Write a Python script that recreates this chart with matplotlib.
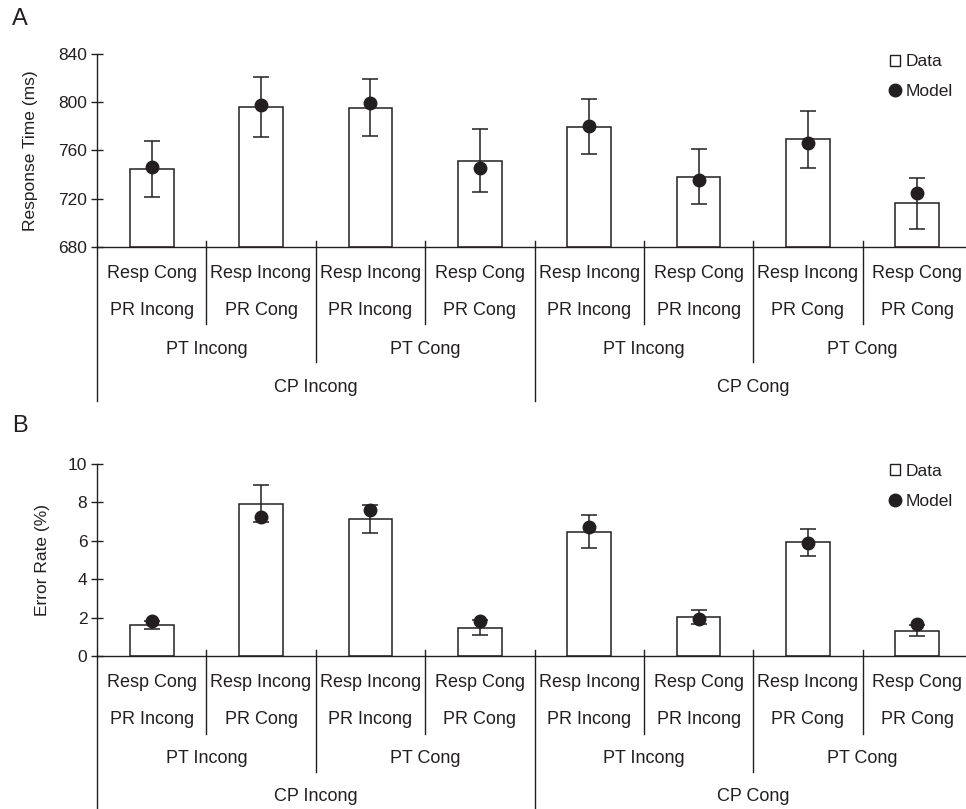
import matplotlib
matplotlib.use('Agg')
import matplotlib.pyplot as plt
from matplotlib.lines import Line2D
from matplotlib.patches import Patch
import numpy as np

plt.rcParams['font.family'] = ['Liberation Sans', 'DejaVu Sans']

# data
resp_labels = ['Resp Cong', 'Resp Incong', 'Resp Incong', 'Resp Cong',
               'Resp Incong', 'Resp Cong', 'Resp Incong', 'Resp Cong']
pr_labels = ['PR Incong', 'PR Cong', 'PR Incong', 'PR Cong',
             'PR Incong', 'PR Incong', 'PR Cong', 'PR Cong']
pt_labels = ['PT Incong', 'PT Cong', 'PT Incong', 'PT Cong']
cp_labels = ['CP Incong', 'CP Cong']

rt_data = [744.5, 796, 795.5, 751.5, 779.8, 738, 769.2, 716.2]
rt_err = [23, 24.6, 24, 26, 23, 22.8, 23.6, 21.2]
rt_model = [746, 798, 799, 745, 780, 735.5, 766.5, 725]

er_data = [1.61, 7.93, 7.12, 1.47, 6.47, 2.04, 5.92, 1.32]
er_err = [0.22, 0.95, 0.73, 0.38, 0.84, 0.37, 0.70, 0.30]
er_model = [1.80, 7.21, 7.59, 1.80, 6.71, 1.92, 5.89, 1.65]

ink = '#231f20'
W, H = 966, 809
fig = plt.figure(figsize=(W / 100, H / 100), dpi=100)


def make_panel(top_px, bot_px, data, err, model, ylo, yhi, yticks, ylabel, label_x, letter, letter_y):
    ax = fig.add_axes([97 / W, (H - bot_px) / H, (972 - 97) / W, (bot_px - top_px) / H])
    hpx = bot_px - top_px
    x = np.arange(len(data))
    data = np.array(data)
    ax.bar(x, data - ylo, bottom=ylo, width=0.4, facecolor='white', edgecolor=ink, linewidth=1.1, zorder=2)
    ax.errorbar(x, data, yerr=err, fmt='none', ecolor=ink, elinewidth=1.1, capsize=5.5, capthick=1.1, zorder=3)
    ax.plot(x, model, 'o', color=ink, markersize=9, zorder=4, linestyle='none')

    ax.set_xlim(-0.5, 7.5)
    ax.set_ylim(ylo, yhi)
    ax.set_yticks(yticks)
    ax.set_xticks([])
    ax.tick_params(axis='y', direction='inout', length=8, width=1, colors=ink, labelsize=12.5, pad=3)
    for s in ['top', 'right']:
        ax.spines[s].set_visible(False)
    for s in ['left', 'bottom']:
        ax.spines[s].set_color(ink)
        ax.spines[s].set_linewidth(1)
    ax.set_ylabel(ylabel, fontsize=12.5, color=ink)
    ax.yaxis.set_label_coords(label_x, 0.5)

    tr = ax.get_xaxis_transform()

    def fy(px):
        return -px / hpx

    # hierarchical category labels
    for i, t in enumerate(resp_labels):
        ax.text(i, fy(26.5), t, transform=tr, ha='center', va='center', fontsize=13, color=ink)
    for i, t in enumerate(pr_labels):
        ax.text(i, fy(64), t, transform=tr, ha='center', va='center', fontsize=13, color=ink)
    for i, t in enumerate(pt_labels):
        ax.text(2 * i + 0.5, fy(102.3), t, transform=tr, ha='center', va='center', fontsize=13, color=ink)
    for i, t in enumerate(cp_labels):
        ax.text(4 * i + 1.5, fy(140.5), t, transform=tr, ha='center', va='center', fontsize=13, color=ink)

    # separator lines
    for xb in [0.5, 2.5, 4.5, 6.5]:
        ax.plot([xb, xb], [fy(-6), fy(77.6)], transform=tr, color=ink, lw=1, clip_on=False)
    for xb in [1.5, 5.5]:
        ax.plot([xb, xb], [fy(-6), fy(115.6)], transform=tr, color=ink, lw=1, clip_on=False)
    ax.plot([3.5, 3.5], [fy(-6), fy(154)], transform=tr, color=ink, lw=1, clip_on=False)
    ax.plot([-0.5, -0.5], [0, fy(154)], transform=tr, color=ink, lw=1, clip_on=False)

    handles = [Patch(facecolor='white', edgecolor=ink, linewidth=1, label='Data'),
               Line2D([], [], marker='o', color=ink, linestyle='none', markersize=9, label='Model')]
    ax.legend(handles=handles, loc='upper right', bbox_to_anchor=(0.996, 1.08), frameon=False,
              fontsize=12.5, handlelength=0.6, handleheight=0.6, handletextpad=0.3,
              labelspacing=0.85, labelcolor=ink)

    fig.text(12 / W, 1 - letter_y / H, letter, fontsize=17, color=ink, ha='left', va='center')
    return ax


make_panel(54, 246.7, rt_data, rt_err, rt_model, 680, 840, [680, 720, 760, 800, 840],
           'Response Time (ms)', -59 / 875, 'A', 19)
make_panel(463.7, 656, er_data, er_err, er_model, 0, 10, [0, 2, 4, 6, 8, 10],
           'Error Rate (%)', -47 / 875, 'B', 426)

fig.savefig('out.png', dpi=100)
